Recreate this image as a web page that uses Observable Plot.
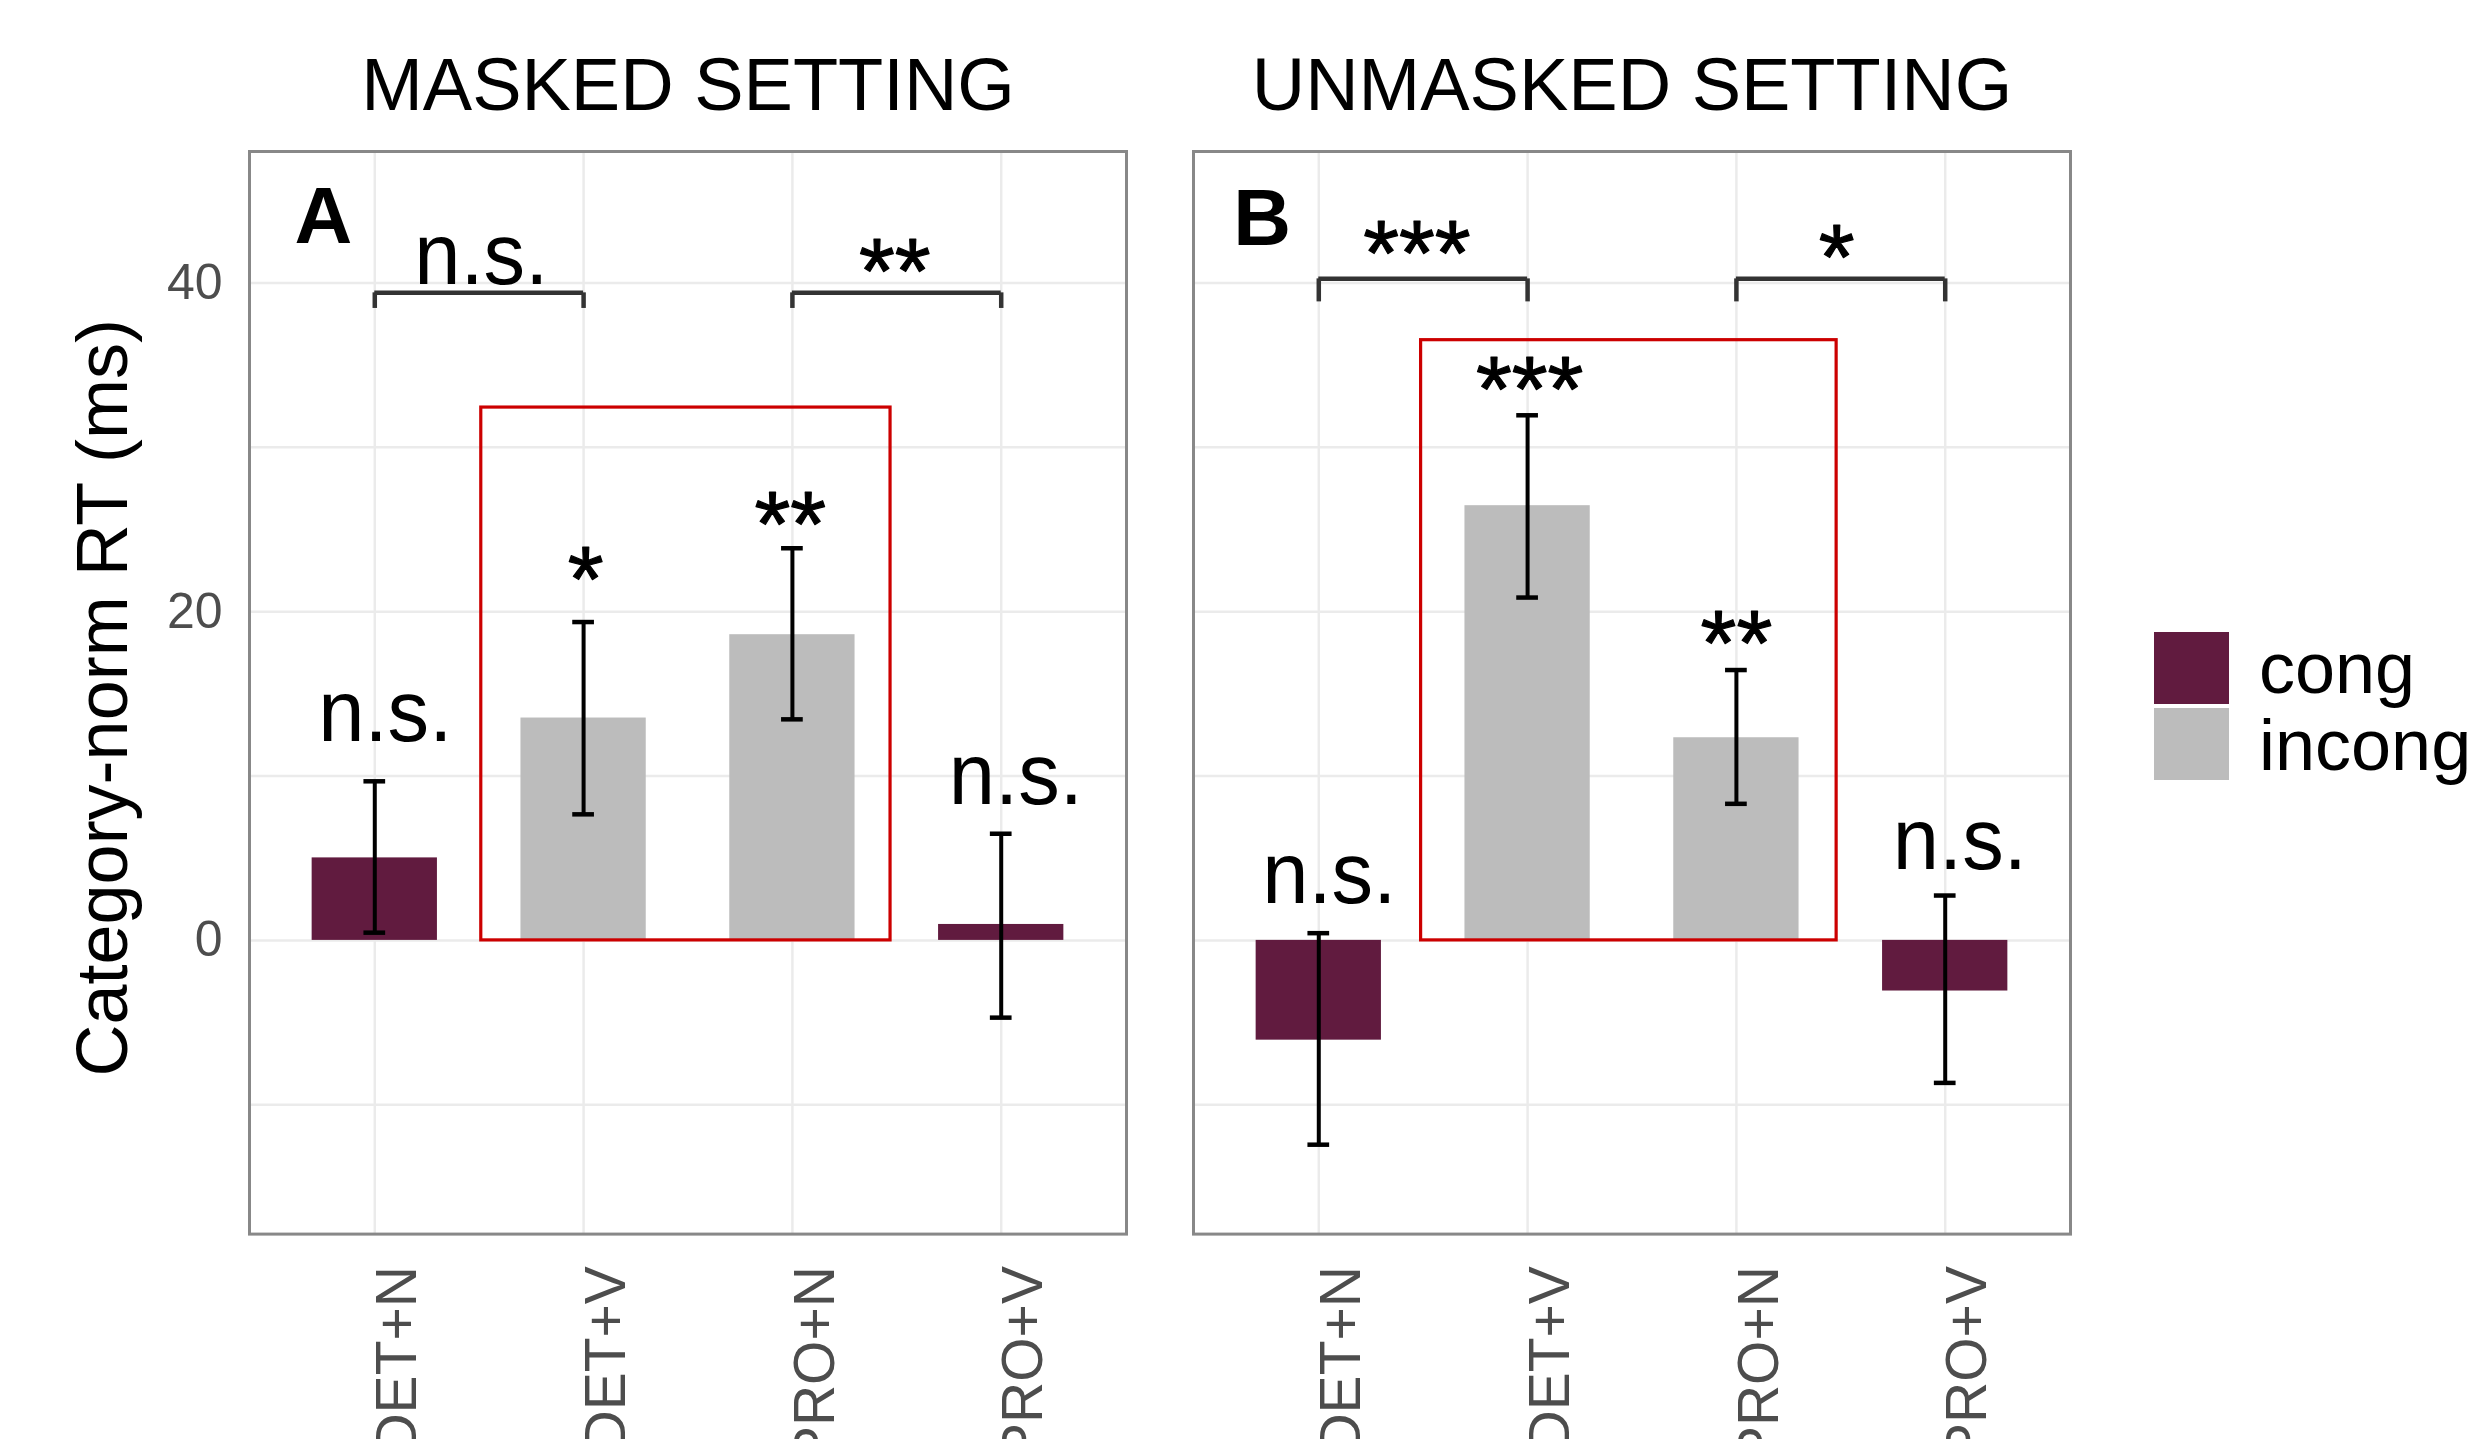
<!DOCTYPE html>
<html>
<head>
<meta charset="utf-8">
<script src="https://cdn.jsdelivr.net/npm/d3@7"></script>
<script src="https://cdn.jsdelivr.net/npm/@observablehq/plot@0.6"></script>
<style>
  html, body { margin: 0; padding: 0; background: #fff; }
  #wrap { position: relative; width: 2478px; height: 1439px; overflow: hidden; background: #fff; }
  .sw { position: absolute; }
  .lt { position: absolute; font-family: 'Liberation Sans', Arial, sans-serif; font-size: 72px; line-height: 1; color: #000; white-space: nowrap; }
</style>
</head>
<body>
<div id="wrap"></div>
<script>
// ---------------- data ----------------
const categories = ["DET+N", "DET+V", "PRO+N", "PRO+V"];
const panels = ["MASKED SETTING", "UNMASKED SETTING"];
const conditions = ["cong", "incong"];
const barCondition = ["cong", "incong", "incong", "cong"];
const yTicks = [0, 20, 40];
const yGrid = [-10, 0, 10, 20, 30, 40];
const yLabel = "Category-norm RT (ms)";

// Panel A (masked)
const maskedMean = [5.02, 13.53, 18.6, 0.97];
const maskedLow  = [0.47, 7.67, 13.45, -4.70];
const maskedHigh = [9.68, 19.37, 23.86, 6.49];
// Panel B (unmasked)
const unmaskedMean = [-6.07, 26.45, 12.33, -3.08];
const unmaskedLow  = [-12.43, 20.86, 8.31, -8.67];
const unmaskedHigh = [0.44, 31.95, 16.45, 2.73];

// red highlight boxes (category-index units / ms)
const boxPanel = ["MASKED SETTING", "UNMASKED SETTING"];
const boxFrom = [1.51, 1.49];
const boxTo = [3.47, 3.48];
const boxBottom = [0, 0];
const boxTop = [32.42, 36.52];

// comparison brackets
const bracketPanel = ["MASKED SETTING", "MASKED SETTING", "UNMASKED SETTING", "UNMASKED SETTING"];
const bracketFrom = ["DET+N", "PRO+N", "DET+N", "PRO+N"];
const bracketTo = ["DET+V", "PRO+V", "DET+V", "PRO+V"];
const bracketY = [39.4, 39.4, 40.25, 40.25];
const bracketEnd = [38.45, 38.45, 38.85, 38.85];

// significance labels
const nsPanel = ["MASKED SETTING", "MASKED SETTING", "MASKED SETTING", "UNMASKED SETTING", "UNMASKED SETTING"];
const nsX = [1.51, 1.05, 4.07, 1.05, 4.07];
const nsY = [39.96, 12.13, 8.3, 2.28, 4.32];

const starPanel = ["MASKED SETTING", "MASKED SETTING", "MASKED SETTING", "UNMASKED SETTING", "UNMASKED SETTING", "UNMASKED SETTING", "UNMASKED SETTING"];
const starText = ["**", "*", "**", "***", "*", "***", "**"];
const starX = [3.49, 2.01, 2.99, 1.47, 3.48, 2.01, 3.0];
const starY = [38.76, 20.04, 23.37, 39.86, 39.66, 31.63, 16.17];

const letterPanel = ["MASKED SETTING", "UNMASKED SETTING"];
const letterText = ["A", "B"];
const letterX = [0.616, 0.59];
const letterY = [42.44, 42.3];

const colors = ["#611b3f", "#bcbcbc"];

// ---------------- tables ----------------
function rows(panel, m, lo, hi) {
  return categories.map((c, i) => ({panel, category: c, pos: i + 1, cond: barCondition[i], mean: m[i], low: lo[i], high: hi[i]}));
}
const bars = [...rows(panels[0], maskedMean, maskedLow, maskedHigh), ...rows(panels[1], unmaskedMean, unmaskedLow, unmaskedHigh)];
const boxes = boxPanel.map((p, i) => ({panel: p, x1: boxFrom[i], x2: boxTo[i], y1: boxBottom[i], y2: boxTop[i]}));
const brackets = bracketPanel.map((p, i) => ({panel: p, a: categories.indexOf(bracketFrom[i]) + 1, b: categories.indexOf(bracketTo[i]) + 1, y: bracketY[i], e: bracketEnd[i]}));
const nsLabels = nsPanel.map((p, i) => ({panel: p, x: nsX[i], y: nsY[i], text: "n.s."}));
const stars = starPanel.map((p, i) => ({panel: p, x: starX[i], y: starY[i], text: starText[i]}));
const letters = letterPanel.map((p, i) => ({panel: p, x: letterX[i], y: letterY[i], text: letterText[i]}));

const BAR_HALF = 0.3, CAP_HALF = 0.052;
const sans = "'Liberation Sans', Arial, Helvetica, sans-serif";

const plot = Plot.plot({
  width: 2478,
  height: 1439,
  marginLeft: 249,
  marginRight: 408,
  marginTop: 151,
  marginBottom: 205.4,
  style: {fontFamily: sans, background: "white", overflow: "visible"},
  fx: {domain: panels, paddingInner: 0.071, paddingOuter: 0, axis: null},
  x: {domain: [0.4, 4.6]},
  y: {domain: [-17.87, 48.0]},
  color: {domain: conditions, range: colors},
  marks: [
    Plot.gridY(yGrid, {stroke: "#ebebeb", strokeOpacity: 1, strokeWidth: 2.5}),
    Plot.gridX([1, 2, 3, 4], {stroke: "#ebebeb", strokeOpacity: 1, strokeWidth: 2.5}),
    Plot.rect(bars, {fx: "panel", x1: d => d.pos - BAR_HALF, x2: d => d.pos + BAR_HALF, y1: 0, y2: "mean", fill: "cond"}),
    Plot.ruleX(bars, {fx: "panel", x: "pos", y1: "low", y2: "high", stroke: "#000", strokeWidth: 4}),
    Plot.ruleY(bars, {fx: "panel", y: "high", x1: d => d.pos - CAP_HALF, x2: d => d.pos + CAP_HALF, stroke: "#000", strokeWidth: 4.5}),
    Plot.ruleY(bars, {fx: "panel", y: "low", x1: d => d.pos - CAP_HALF, x2: d => d.pos + CAP_HALF, stroke: "#000", strokeWidth: 4.5}),
    Plot.rect(boxes, {fx: "panel", x1: "x1", x2: "x2", y1: "y1", y2: "y2", fill: "none", stroke: "#cc0000", strokeWidth: 3.2}),
    Plot.ruleY(brackets, {fx: "panel", y: "y", x1: "a", x2: "b", stroke: "#333", strokeWidth: 4.5}),
    Plot.ruleX(brackets, {fx: "panel", x: "a", y1: "e", y2: "y", stroke: "#333", strokeWidth: 4.5}),
    Plot.ruleX(brackets, {fx: "panel", x: "b", y1: "e", y2: "y", stroke: "#333", strokeWidth: 4.5}),
    Plot.text(nsLabels, {fx: "panel", x: "x", y: "y", text: "text", lineAnchor: "bottom", fontSize: 88, fontFamily: sans, fill: "#000"}),
    Plot.text(stars, {fx: "panel", x: "x", y: "y", text: "text", lineAnchor: "bottom", fontSize: 92, fontFamily: sans, fill: "#000", stroke: "#000", strokeWidth: 1.2}),
    Plot.text(letters, {fx: "panel", x: "x", y: "y", text: "text", textAnchor: "start", lineAnchor: "bottom", fontSize: 80, fontWeight: "bold", fontFamily: sans, fill: "#000"}),
    Plot.text(panels, {fx: d => d, text: d => d, frameAnchor: "top", dy: -41.7, lineAnchor: "bottom", fontSize: 74, fontFamily: sans, fill: "#000"}),
    Plot.text([panels[0]], {fx: d => d, text: () => yLabel, frameAnchor: "left", textAnchor: "middle", rotate: -90, dx: -122.5, dy: 5, lineAnchor: "bottom", fontSize: 72, fontFamily: sans, fill: "#000"}),
    Plot.axisY(yTicks, {tickSize: 0, tickPadding: 27, fontSize: 50, color: "#4d4d4d", label: null, fontFamily: sans}),
    Plot.axisX([1, 2, 3, 4], {tickFormat: i => categories[i - 1], tickRotate: -90, tickSize: 0, tickPadding: 32, dx: 23, fontSize: 57, color: "#4d4d4d", label: null, fontFamily: sans}),
    Plot.frame({stroke: "#888", strokeWidth: 3})
  ]
});

const sel = d3.select(plot).selectAll("text");
sel.filter(function () { return this.textContent === "n.s."; }).attr("textLength", 134).attr("lengthAdjust", "spacingAndGlyphs");

const wrap = document.getElementById("wrap");
wrap.appendChild(plot);

// legend
const legTop = [631.7, 707.7];
conditions.forEach((c, i) => {
  const s = document.createElement("div");
  s.className = "sw";
  s.style.left = "2154px"; s.style.top = legTop[i] + "px";
  s.style.width = "75px"; s.style.height = "72.6px";
  s.style.background = colors[i];
  wrap.appendChild(s);
  const t = document.createElement("div");
  t.className = "lt";
  t.style.left = "2259px"; t.style.top = (i === 0 ? 632.4 : 709.1) + "px";
  t.textContent = c;
  wrap.appendChild(t);
});
</script>
</body>
</html>
